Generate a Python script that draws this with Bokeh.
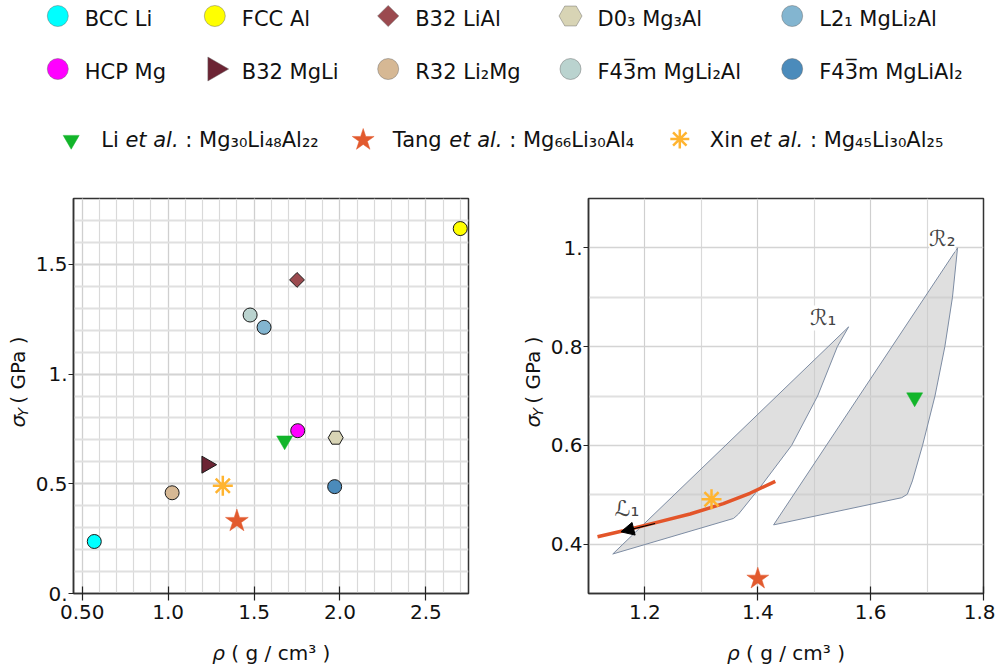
import numpy as np
from math import pi
from bokeh.plotting import figure
from bokeh.models import Range1d, FixedTicker, Label, Arrow, NormalHead, ColumnDataSource
from bokeh.layouts import column, row
from bokeh.embed import file_html
from bokeh.resources import INLINE
from bokeh.core.properties import value

# ------------------------------------------------------------------ data
phase_names = ["BCC Li", "FCC Al", "B32 LiAl", "D0₃ Mg₃Al", "L2₁ MgLi₂Al",
               "HCP Mg", "B32 MgLi", "R32 Li₂Mg", "F43\u0305m MgLi₂Al", "F43\u0305m MgLiAl₂"]
phase_rho = [0.57, 2.70, 1.75, 1.975, 1.558, 1.754, 1.225, 1.023, 1.477, 1.969]
phase_sigma = [0.237, 1.663, 1.429, 0.710, 1.213, 0.742, 0.587, 0.459, 1.269, 0.487]
phase_colors = ["#00FFFF", "#FFFF00", "#9B4A4F", "#D8D4B5", "#83B5D0",
                "#FF00FF", "#6C2434", "#D6B894", "#BAD3CF", "#4B8BBB"]

exp_authors = ["Li", "Tang", "Xin"]
exp_alloys = ["Mg₃₀Li₄₈Al₂₂", "Mg₆₆Li₃₀Al₄", "Mg₄₅Li₃₀Al₂₅"]
exp_rho = [1.678, 1.40, 1.318]
exp_sigma = [0.697, 0.330, 0.491]
exp_colors = ["#12B52A", "#E25A2E", "#FFB430"]

r1_rho = [1.143, 1.561, 1.541, 1.506, 1.460, 1.404, 1.366, 1.357]
r1_sigma = [0.380, 0.840, 0.800, 0.700, 0.600, 0.515, 0.461, 0.452]
r2_rho = [1.428, 1.754, 1.745, 1.7315, 1.714, 1.692, 1.674, 1.665, 1.655]
r2_sigma = [0.439, 1.000, 0.900, 0.800, 0.700, 0.600, 0.528, 0.501, 0.494]
l1_rho = [1.116, 1.162, 1.221, 1.280, 1.339, 1.386, 1.431]
l1_sigma = [0.415, 0.427, 0.444, 0.461, 0.482, 0.503, 0.527]
l1_arrow_rho = [1.218, 1.1575]
l1_arrow_sigma = [0.4417, 0.4249]
region_labels = ["ℛ₁", "ℛ₂", "ℒ₁"]
region_label_rho = [1.516, 1.727, 1.168]
region_label_sigma = [0.858, 1.018, 0.472]

left_xticks = [0.5, 1.0, 1.5, 2.0, 2.5]
left_xlabels = ["0.50", "1.0", "1.5", "2.0", "2.5"]
left_yticks = [0.0, 0.5, 1.0, 1.5]
left_ylabels = ["0.", "0.5", "1.", "1.5"]
right_xticks = [1.2, 1.4, 1.6, 1.8]
right_xlabels = ["1.2", "1.4", "1.6", "1.8"]
right_yticks = [0.4, 0.6, 0.8, 1.0]
right_ylabels = ["0.4", "0.6", "0.8", "1."]

# ------------------------------------------------------------------ styles
FONT = "DejaVu Sans"
phase_markers = ["circle", "circle", "square", "hex", "circle",
                 "circle", "triangle", "circle", "circle", "circle"]
phase_angles = [0, 0, pi / 4, 0, 0, 0, -pi / 2, 0, 0, 0]
plot_sizes = [14, 14, 10.5, 15, 14, 14, 17, 14, 14, 14]
legend_sizes = [21, 21, 15, 23, 21, 21, 24, 21, 21, 21]

# approximate DejaVu Sans advance widths (em)
ADV = {" ": .318, ":": .337, "L": .557, "i": .278, "e": .615, "t": .392, "a": .613,
       "l": .278, ".": .318, "T": .611, "n": .634, "g": .635, "X": .685, "σ": .634,
       "ρ": .635, "Y": .611, "(": .39, ")": .39, "G": .775, "P": .603, "/": .337,
       "c": .55, "m": .974, "³": .401}
KERN = {"Tang": -2.5}


def tw(s, size):
    return sum(ADV.get(ch, 0.6) for ch in s) * size


def style_axes(p, xt, xl, xminor, yt, yl, yminor):
    p.xaxis.ticker = FixedTicker(ticks=xt, minor_ticks=xminor)
    p.yaxis.ticker = FixedTicker(ticks=yt, minor_ticks=yminor)
    p.xaxis.major_label_overrides = {t: s for t, s in zip(xt, xl)}
    p.yaxis.major_label_overrides = {t: s for t, s in zip(yt, yl)}
    for ax in (p.xaxis[0], p.yaxis[0]):
        ax.axis_line_color = "#333333"
        ax.axis_line_width = 1.5
        ax.major_tick_line_color = "#222222"
        ax.major_tick_line_width = 1.2
        ax.minor_tick_line_color = None
        ax.major_label_text_font = FONT
        ax.major_label_text_font_size = "20px"
        ax.major_label_text_color = "#111111"
    p.xaxis.major_tick_in = 7
    p.xaxis.major_tick_out = 7
    p.xaxis.major_label_standoff = 4
    p.yaxis.major_tick_in = 0
    p.yaxis.major_tick_out = 5
    p.yaxis.major_label_standoff = 1
    p.xgrid.grid_line_color = "#cfcfcf"
    p.xgrid.grid_line_width = 1.2
    p.xgrid.minor_grid_line_color = "#d9d9d9"
    p.xgrid.minor_grid_line_width = 1.2
    p.ygrid.grid_line_color = "#d4d4d4"
    p.ygrid.grid_line_width = 1.6
    p.ygrid.minor_grid_line_color = "#e0e0e0"
    p.ygrid.minor_grid_line_width = 2
    p.outline_line_color = "#333333"
    p.outline_line_width = 1.5
    p.outline_line_alpha = 1


def blank_fig(w, h):
    f = figure(width=w, height=h, x_range=Range1d(0, w), y_range=Range1d(0, h),
               output_backend="svg", toolbar_location=None, min_border=0,
               x_axis_type=None, y_axis_type=None)
    f.grid.visible = False
    f.outline_line_color = None
    return f


def ylabel_fig(w, h, xm, yb):
    """rotated sigma_Y ( GPa ) label; xm = middle line x, yb = start y (from bottom)"""
    f = blank_fig(w, h)
    f.text([xm], [yb], text=["σ"], angle=pi / 2, text_font=value(FONT),
           text_font_size="20px", text_font_style="italic",
           text_baseline="middle", text_align="left", text_color="#111111")
    y2 = yb + tw("σ", 20)
    f.text([xm + 5.5], [y2], text=["Y"], angle=pi / 2, text_font=value(FONT),
           text_font_size="14px", text_font_style="italic",
           text_baseline="middle", text_align="left", text_color="#111111")
    y3 = y2 + tw("Y", 14) + tw(" ", 20)
    f.text([xm], [y3], text=["( GPa )"], angle=pi / 2, text_font=value(FONT),
           text_font_size="20px", text_baseline="middle", text_align="left",
           text_color="#111111")
    return f


def xlabel_fig(w, h, xc, yb):
    f = blank_fig(w, h)
    total = tw("ρ", 20) + tw(" ( g / cm³ )", 20)
    x0 = xc - total / 2
    f.text([x0], [yb], text=["ρ"], text_font=value(FONT), text_font_size="20px",
           text_font_style="italic", text_baseline="alphabetic", text_align="left",
           text_color="#111111")
    f.text([x0 + tw("ρ ", 20)], [yb], text=["( g / cm³ )"], text_font=value(FONT),
           text_font_size="20px", text_baseline="alphabetic", text_align="left",
           text_color="#111111")
    return f


def exp_markers(p, sizes):
    p.scatter([exp_rho[0]], [exp_sigma[0]], marker="inverted_triangle", size=sizes[0],
              fill_color=exp_colors[0], line_color=exp_colors[0], line_width=0.5)
    p.scatter([exp_rho[1]], [exp_sigma[1]], marker="star", size=sizes[1],
              fill_color=exp_colors[1], line_color=exp_colors[1], line_width=0.5)
    p.scatter([exp_rho[2]], [exp_sigma[2]], marker="asterisk", size=sizes[2],
              line_color=exp_colors[2], line_width=2.5)


# geometry (page pixels): legend 0..178, plots 178..635, x labels 635..664
LEG_H = 178
PH = 457          # 20 top + 395 frame + 42 bottom
XL_H = 29
YL_W_LEFT = 31
PL_W = 42 + 395 + 30
YL_W_RIGHT = 49
PR_W = 41 + 395 + 12

# ------------------------------------------------------------------ left plot
pl = figure(width=PL_W, height=PH, x_range=Range1d(0.449, 2.748), y_range=Range1d(0, 1.8),
            output_backend="svg", toolbar_location=None,
            min_border_left=42, min_border_right=30, min_border_top=20, min_border_bottom=42)
style_axes(pl, left_xticks, left_xlabels, [round(v, 2) for v in np.arange(0.5, 2.75, 0.1)],
           left_yticks, left_ylabels, [round(v, 2) for v in np.arange(0.0, 1.85, 0.1)])

src = ColumnDataSource(dict(x=phase_rho, y=phase_sigma, color=phase_colors,
                            marker=phase_markers, angle=phase_angles, size=plot_sizes))
pl.scatter("x", "y", source=src, marker="marker", angle="angle", size="size",
           fill_color="color", line_color="#1a1a1a", line_width=1)
exp_markers(pl, [16, 24, 20])

# ------------------------------------------------------------------ right plot
pr = figure(width=PR_W, height=PH, x_range=Range1d(1.1, 1.8), y_range=Range1d(0.3, 1.1),
            output_backend="svg", toolbar_location=None,
            min_border_left=41, min_border_right=12, min_border_top=20, min_border_bottom=42)
style_axes(pr, right_xticks, right_xlabels, [1.1, 1.3, 1.5, 1.7],
           right_yticks, right_ylabels, [0.3, 0.5, 0.7, 0.9, 1.1])

for rx, ry in ((r1_rho, r1_sigma), (r2_rho, r2_sigma)):
    pr.patch(rx, ry, fill_color="#c4c4c4", fill_alpha=0.55,
             line_color="#7d8ca3", line_width=1)
pr.line(l1_rho, l1_sigma, line_color="#E3552A", line_width=3.5)
pr.add_layout(Arrow(end=NormalHead(size=13, fill_color="black", line_color="black"),
                    x_start=l1_arrow_rho[0], y_start=l1_arrow_sigma[0],
                    x_end=l1_arrow_rho[1], y_end=l1_arrow_sigma[1],
                    line_color="black", line_width=1.2))
exp_markers(pr, [16, 23, 20])
for t, lx, ly in zip(region_labels, region_label_rho, region_label_sigma):
    pr.add_layout(Label(x=lx, y=ly, text=t, text_font=FONT, text_font_size="22px",
                        text_align="center", text_baseline="middle",
                        background_fill_color="white", background_fill_alpha=1))

# ------------------------------------------------------------------ axis label strips
yl_left = ylabel_fig(YL_W_LEFT, PH, 17, 192)
yl_right = ylabel_fig(YL_W_RIGHT, PH, 34, 192)
xl_left = xlabel_fig(YL_W_LEFT + PL_W, XL_H, 270.8, 12)
xl_right = xlabel_fig(YL_W_RIGHT + PR_W, XL_H, 287.5, 12)

# ------------------------------------------------------------------ legend
lg = figure(width=995, height=LEG_H, x_range=Range1d(0, 995), y_range=Range1d(LEG_H, 0),
            output_backend="svg", toolbar_location=None, min_border=0,
            x_axis_type=None, y_axis_type=None)
lg.grid.visible = False
lg.outline_line_color = None

col_x = [57.3, 214.3, 387.7, 570.0, 791.7]
row_marker_y = [15.5, 68.5]
row_text_y = [18.5, 71.0]
lmx, lmy, ltx, lty = [], [], [], []
for i in range(len(phase_names)):
    r, c = i // 5, i % 5
    lmx.append(col_x[c])
    lmy.append(row_marker_y[r])
    ltx.append(col_x[c] + 27)
    lty.append(row_text_y[r])
lsrc = ColumnDataSource(dict(x=lmx, y=lmy, color=phase_colors, marker=phase_markers,
                             angle=phase_angles, size=legend_sizes))
lg.scatter("x", "y", source=lsrc, marker="marker", angle="angle", size="size",
           fill_color="color", line_color="#666666", line_alpha=0.45, line_width=1)
lg.text(ltx, lty, text=phase_names, text_font=value(FONT), text_font_size="21px",
        text_baseline="alphabetic", text_align="left", text_color="#111111")

ex_mx = [70.7, 362.7, 679.3]
ex_tx = [100.7, 392.3, 709.3]
ey_m = 139.5
ey_t = 139.3
lg.scatter([ex_mx[0]], [ey_m], marker="inverted_triangle", size=16,
           fill_color=exp_colors[0], line_color=exp_colors[0], line_width=0.5)
lg.scatter([ex_mx[1]], [ey_m], marker="star", size=23,
           fill_color=exp_colors[1], line_color=exp_colors[1], line_width=0.5)
lg.scatter([ex_mx[2]], [ey_m - 1], marker="asterisk", size=19,
           line_color=exp_colors[2], line_width=2.5)
for a, alloy, x0 in zip(exp_authors, exp_alloys, ex_tx):
    x1 = x0 + tw(a + " ", 21) + KERN.get(a, 0)
    x2 = x1 + tw("et al. ", 21)
    lg.text([x0], [ey_t], text=[a], text_font=value(FONT), text_font_size="21px",
            text_baseline="alphabetic", text_color="#111111")
    lg.text([x1], [ey_t], text=["et al."], text_font=value(FONT), text_font_size="21px",
            text_font_style="italic", text_baseline="alphabetic", text_color="#111111")
    lg.text([x2], [ey_t], text=[": " + alloy], text_font=value(FONT), text_font_size="21px",
            text_baseline="alphabetic", text_color="#111111")

layout = column(lg, row(column(row(yl_left, pl), xl_left),
                        column(row(yl_right, pr), xl_right)))
open("out.html", "w").write(file_html(layout, INLINE))
